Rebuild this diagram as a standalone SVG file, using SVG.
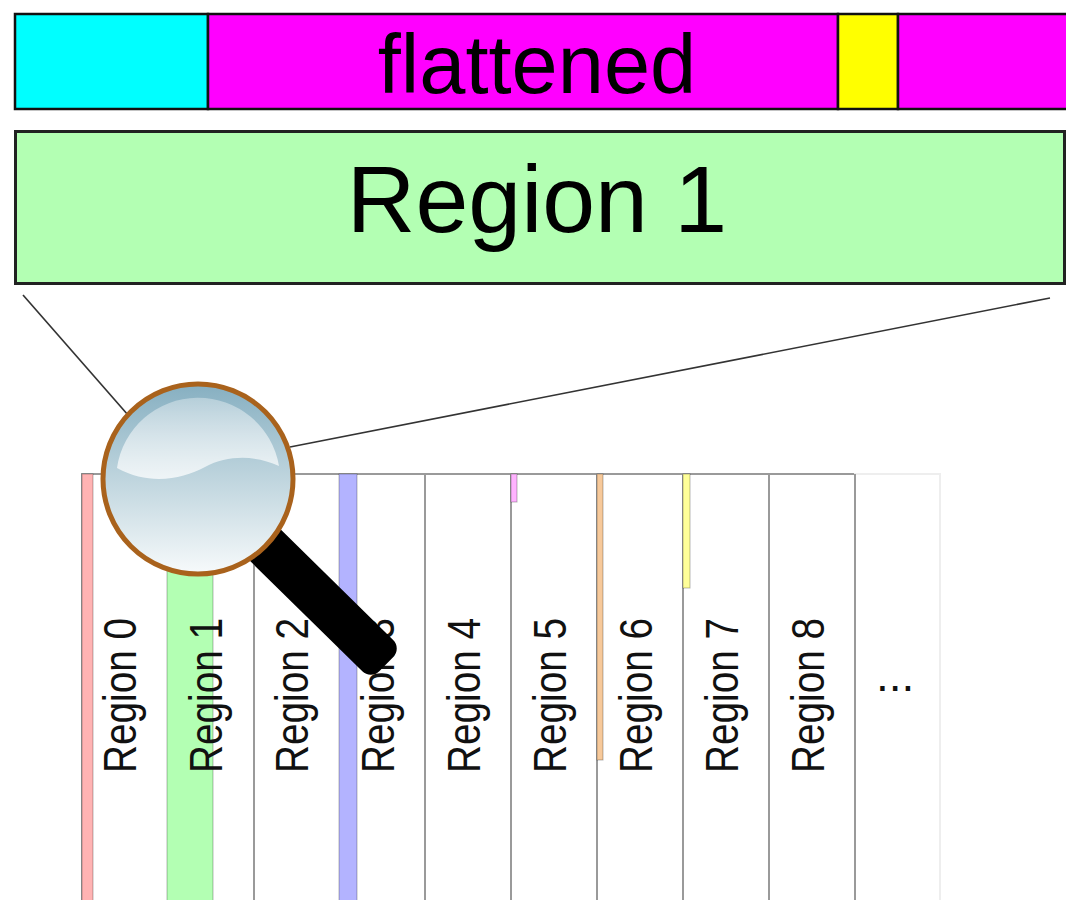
<svg xmlns="http://www.w3.org/2000/svg" width="1066" height="900" viewBox="0 0 1066 900">
  <style>
    .seg { stroke: #111; stroke-width: 2.5; }
    .big { font-family: "Liberation Sans", Arial, sans-serif; fill: #000; text-anchor: middle; }
    .col { fill: #fff; stroke: #9a9a9a; stroke-width: 2; }
    .bar { stroke: rgba(0,0,0,0.28); stroke-width: 1; }
    .lbl { font-family: "Liberation Sans", Arial, sans-serif; font-size: 46px; fill: #111; }
    .zoomline { stroke: #333; stroke-width: 1.6; fill: none; }
  </style>
  <defs>
    <linearGradient id="lens" x1="0" y1="0" x2="0" y2="1">
      <stop offset="0" stop-color="#86afc1"/>
      <stop offset="0.5" stop-color="#bfd5de"/>
      <stop offset="1" stop-color="#f7fafb"/>
    </linearGradient>
    <linearGradient id="shine" x1="0" y1="0" x2="0" y2="1">
      <stop offset="0" stop-color="#ffffff" stop-opacity="0.35"/>
      <stop offset="1" stop-color="#ffffff" stop-opacity="0.75"/>
    </linearGradient>
    <linearGradient id="fade" x1="0" y1="0" x2="1" y2="0">
      <stop offset="0" stop-color="#c8c8c8"/>
      <stop offset="1" stop-color="#f4f4f4"/>
    </linearGradient>
  </defs>

  <rect width="1066" height="900" fill="#fff"/>

  <!-- flattened memory strip -->
  <g id="flattened">
    <rect class="seg" x="15" y="14" width="193" height="95" fill="#00ffff"/>
    <rect class="seg" x="208" y="14" width="630" height="95" fill="#ff00ff"/>
    <rect class="seg" x="838" y="14" width="60" height="95" fill="#ffff00"/>
    <rect class="seg" x="898" y="14" width="180" height="95" fill="#ff00ff"/>
    <text class="big" x="537" y="93" font-size="83">flattened</text>
  </g>

  <!-- enlarged region -->
  <g id="region1-zoom">
    <rect x="15.5" y="131.5" width="1049" height="152" fill="#b3ffb3" stroke="#222" stroke-width="3"/>
    <text class="big" x="537" y="232" font-size="95">Region 1</text>
  </g>

  <!-- column strip of regions -->
  <g id="regions">
    <rect class="col" x="82" y="474" width="86" height="440"/>
    <rect class="col" x="168" y="474" width="86" height="440"/>
    <rect class="col" x="254" y="474" width="86" height="440"/>
    <rect class="col" x="340" y="474" width="86" height="440"/>
    <rect class="col" x="425" y="474" width="86" height="440"/>
    <rect class="col" x="511" y="474" width="86" height="440"/>
    <rect class="col" x="597" y="474" width="86" height="440"/>
    <rect class="col" x="683" y="474" width="86" height="440"/>
    <rect class="col" x="769" y="474" width="86" height="440"/>
    <rect x="855" y="474" width="85" height="440" fill="#fff" stroke="#eeeeee" stroke-width="2"/>
    <line x1="855" y1="474" x2="940" y2="474" stroke="url(#fade)" stroke-width="2"/>
    <line x1="855" y1="474" x2="855" y2="900" stroke="#9a9a9a" stroke-width="2"/>

    <rect class="bar" x="82" y="474" width="11" height="440" fill="#ffb3b3"/>
    <rect class="bar" x="167" y="474" width="46" height="440" fill="#b3ffb3"/>
    <rect class="bar" x="339" y="474" width="18" height="440" fill="#b3b3ff"/>
    <rect class="bar" x="511" y="474" width="6" height="28" fill="#ffb3ff" stroke="none"/>
    <rect class="bar" x="597" y="474" width="6" height="286" fill="#f7c99a" stroke="none"/>
    <rect class="bar" x="683" y="474" width="7" height="114" fill="#ffff99" stroke="none"/>

    <text class="lbl" transform="translate(136,773) rotate(-90)" textLength="155" lengthAdjust="spacingAndGlyphs">Region 0</text>
    <text class="lbl" transform="translate(222,773) rotate(-90)" textLength="155" lengthAdjust="spacingAndGlyphs">Region 1</text>
    <text class="lbl" transform="translate(308,773) rotate(-90)" textLength="155" lengthAdjust="spacingAndGlyphs">Region 2</text>
    <text class="lbl" transform="translate(394,773) rotate(-90)" textLength="155" lengthAdjust="spacingAndGlyphs">Region 3</text>
    <text class="lbl" transform="translate(480,773) rotate(-90)" textLength="155" lengthAdjust="spacingAndGlyphs">Region 4</text>
    <text class="lbl" transform="translate(566,773) rotate(-90)" textLength="155" lengthAdjust="spacingAndGlyphs">Region 5</text>
    <text class="lbl" transform="translate(652,773) rotate(-90)" textLength="155" lengthAdjust="spacingAndGlyphs">Region 6</text>
    <text class="lbl" transform="translate(738,773) rotate(-90)" textLength="155" lengthAdjust="spacingAndGlyphs">Region 7</text>
    <text class="lbl" transform="translate(824,773) rotate(-90)" textLength="155" lengthAdjust="spacingAndGlyphs">Region 8</text>
    <text class="lbl" x="876" y="691" font-size="40">...</text>
  </g>

  <!-- projection lines from lens to enlarged region -->
  <g id="connectors">
    <line class="zoomline" x1="23" y1="295" x2="128" y2="415"/>
    <line class="zoomline" x1="1050" y1="298" x2="290" y2="447"/>
  </g>

  <!-- magnifying glass -->
  <g id="magnifier">
    <rect x="198" y="457" width="264" height="44" rx="12" fill="#000" transform="rotate(44.5 198 479)"/>
    <circle cx="198" cy="479" r="95" fill="url(#lens)" stroke="#a9621c" stroke-width="5"/>
    <path d="M117,468 A82,82 0 0 1 279,466 C255,455 228,455 205,467 C182,479 150,486 117,468 Z" fill="url(#shine)"/>
  </g>
</svg>
